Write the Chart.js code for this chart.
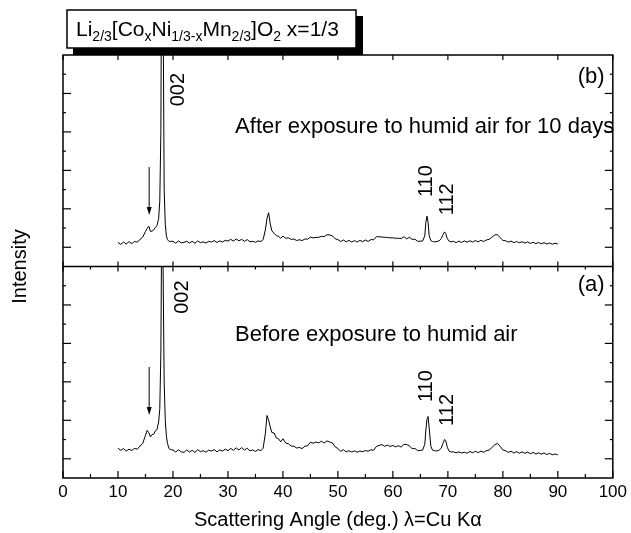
<!DOCTYPE html>
<html>
<head>
<meta charset="utf-8">
<script src="https://cdn.jsdelivr.net/npm/chart.js@4.4.1/dist/chart.umd.min.js"></script>
<style>
  html, body { margin: 0; padding: 0; background: #fff; }
</style>
</head>
<body>
<canvas id="xrdChart" width="631" height="533"></canvas>
<script>
const FONT = "'Liberation Sans', Arial, Helvetica, sans-serif";

// 2-theta positions (deg), shared by both patterns
const angles = [
  10, 10.5, 11, 11.5, 12, 12.5, 13, 13.5, 14, 14.5, 15,
  15.3, 15.6, 15.9, 16.2, 16.5, 16.8, 17.1, 17.4, 17.6, 17.8, 17.9, 18.0, 18.1, 18.2, 18.4, 18.6, 18.8, 19.0, 19.3, 19.6,
  20, 20.5, 21, 21.5, 22, 22.5, 23, 23.5, 24, 24.5,
  25, 25.5, 26, 26.5, 27, 27.5, 28, 28.5, 29, 29.5,
  30, 30.5, 31, 31.5, 32, 32.5, 33, 33.5, 34, 34.5,
  35, 35.5, 36,
  36.4, 36.8, 37.1, 37.4, 37.7, 38.0, 38.4, 38.8, 39.2, 39.6,
  40, 40.5, 41, 41.5, 42, 42.5, 43, 43.5, 44, 44.5,
  45, 45.5, 46, 46.5, 47, 47.5, 48, 48.5, 49, 49.5,
  50, 50.5, 51, 51.5, 52, 52.5, 53, 53.5, 54, 54.5,
  55, 55.5, 56, 56.5, 57, 57.5, 58, 58.5, 59, 59.5,
  60, 60.5, 61, 61.5, 62, 62.5, 63, 63.5, 64, 64.5, 65,
  65.4, 65.8, 66.0, 66.2, 66.4, 66.6, 66.9, 67.2, 67.6, 68.0, 68.4, 68.8, 69.1, 69.4, 69.6, 69.9, 70.2, 70.6,
  71, 71.5, 72, 72.5, 73, 73.5, 74, 74.5, 75, 75.5,
  76, 76.5, 77, 77.5, 78, 78.5, 79, 79.5, 80, 80.5,
  81, 81.5, 82, 82.5, 83, 83.5, 84, 84.5, 85, 85.5,
  86, 86.5, 87, 87.5, 88, 88.5, 89, 89.5, 90
];

// (a) before exposure, intensity in panel units (0-11)
const beforeExposure = [
  1.55, 1.44, 1.53, 1.40, 1.50, 1.43, 1.54, 1.50, 1.66, 1.80, 2.22,
  2.48, 2.36, 2.14, 2.26, 2.28, 2.46, 2.52, 2.92, 3.6, 6.5, 11, 11, 11, 11, 5.0, 3.0, 2.2, 1.8, 1.52, 1.48,
  1.46, 1.35, 1.47, 1.36, 1.33, 1.46, 1.35, 1.44, 1.33, 1.47,
  1.37, 1.42, 1.34, 1.45, 1.40, 1.48, 1.36, 1.46, 1.40, 1.50,
  1.42, 1.54, 1.44, 1.57, 1.46, 1.58, 1.45, 1.55, 1.41, 1.46,
  1.38, 1.48, 1.42,
  1.55, 2.3, 3.25, 3.0, 2.65, 2.36, 2.34, 2.08, 2.04, 1.88,
  2.04, 1.82, 1.78, 1.66, 1.65, 1.56, 1.59, 1.53, 1.65, 1.68,
  1.86, 1.81, 1.87, 1.83, 1.91, 1.82, 1.93, 1.87, 1.82, 1.62,
  1.53, 1.39, 1.47, 1.36, 1.42, 1.35, 1.41, 1.34, 1.40, 1.37,
  1.43, 1.39, 1.47, 1.44, 1.64, 1.69, 1.74, 1.65, 1.71, 1.64,
  1.69, 1.62, 1.68, 1.61, 1.75, 1.74, 1.68, 1.52, 1.54, 1.42, 1.44,
  1.45, 1.75, 2.5, 3.05, 3.2, 2.6, 1.65, 1.45, 1.42, 1.40, 1.45, 1.55, 1.80, 2.00, 1.95, 1.60, 1.40, 1.35,
  1.36, 1.31, 1.36, 1.30, 1.34, 1.29, 1.38, 1.31, 1.39, 1.32,
  1.40, 1.34, 1.42, 1.45, 1.58, 1.72, 1.80, 1.65, 1.46, 1.42,
  1.33, 1.39, 1.30, 1.37, 1.29, 1.36, 1.28, 1.35, 1.26, 1.33,
  1.25, 1.31, 1.24, 1.30, 1.22, 1.28, 1.21, 1.25, 1.20
];

// (b) after 10 days in humid air, intensity in panel units (0-11)
const afterExposure = [
  1.25, 1.15, 1.27, 1.17, 1.29, 1.19, 1.30, 1.27, 1.40, 1.53, 1.82,
  1.97, 2.10, 1.83, 1.84, 1.90, 2.03, 2.13, 2.5, 3.4, 7.0, 14, 16, 16, 14, 4.0, 2.2, 1.6, 1.40, 1.30, 1.31,
  1.31, 1.21, 1.33, 1.23, 1.26, 1.31, 1.22, 1.31, 1.21, 1.33,
  1.24, 1.28, 1.22, 1.31, 1.27, 1.35, 1.25, 1.33, 1.27, 1.36,
  1.32, 1.41, 1.32, 1.43, 1.34, 1.41, 1.31, 1.40, 1.28, 1.31,
  1.26, 1.33, 1.30,
  1.40, 1.9, 2.5, 2.8, 2.2, 1.85, 1.72, 1.60, 1.57, 1.47,
  1.58, 1.47, 1.49, 1.41, 1.43, 1.35, 1.39, 1.35, 1.43, 1.42,
  1.53, 1.49, 1.51, 1.52, 1.57, 1.55, 1.65, 1.64, 1.60, 1.44,
  1.40, 1.30, 1.38, 1.28, 1.36, 1.27, 1.35, 1.27, 1.36, 1.29,
  1.38, 1.30, 1.40, 1.39, 1.55, 1.55, 1.53, 1.52, 1.51, 1.49,
  1.49, 1.47, 1.47, 1.45, 1.55, 1.44, 1.52, 1.41, 1.42, 1.31, 1.32,
  1.32, 1.6, 2.3, 2.62, 2.3, 1.6, 1.35, 1.30, 1.28, 1.30, 1.33, 1.45, 1.65, 1.80, 1.72, 1.45, 1.32, 1.28,
  1.31, 1.24, 1.32, 1.25, 1.33, 1.26, 1.34, 1.27, 1.35, 1.28,
  1.36, 1.30, 1.38, 1.41, 1.52, 1.64, 1.66, 1.50, 1.36, 1.34,
  1.27, 1.32, 1.24, 1.30, 1.23, 1.29, 1.22, 1.28, 1.20, 1.26,
  1.19, 1.25, 1.18, 1.24, 1.17, 1.22, 1.16, 1.21, 1.17
];

const xTickValues = [0, 10, 20, 30, 40, 50, 60, 70, 80, 90, 100];
const panelSpan = 11; // each panel covers 11 intensity units

// annotations in data coordinates
const notes = [
  { text: '(b)', x: 93.6, y: 20.85, size: 22 },
  { text: 'After exposure to humid air for 10 days', x: 31.3, y: 18.25, size: 22 },
  { text: '002', x: 21.0, y: 20.2, size: 20, rot: true },
  { text: '110', x: 66.1, y: 15.44, size: 20, rot: true },
  { text: '112', x: 70.0, y: 14.5, size: 20, rot: true },
  { text: '(a)', x: 93.6, y: 10.04, size: 22 },
  { text: 'Before exposure to humid air', x: 31.3, y: 7.44, size: 22 },
  { text: '002', x: 21.8, y: 9.41, size: 20, rot: true },
  { text: '110', x: 66.1, y: 4.78, size: 20, rot: true },
  { text: '112', x: 70.0, y: 3.54, size: 20, rot: true }
];
const arrows = [
  { x: 15.67, from: 16.17, to: 13.68 },
  { x: 15.67, from: 5.77, to: 3.28 }
];
const formula = [
  ['Li', 0], ['2/3', 1], ['[Co', 0], ['x', 1], ['Ni', 0], ['1/3-x', 1],
  ['Mn', 0], ['2/3', 1], [']O', 0], ['2', 1], [' x=1/3', 0]
];

const decorations = {
  id: 'decorations',
  beforeDraw(chart) {
    const c = chart.ctx;
    c.save();
    c.fillStyle = '#fff';
    c.fillRect(0, 0, chart.width, chart.height);
    c.restore();
  },
  afterDatasetsDraw(chart) {
    const c = chart.ctx, a = chart.chartArea;
    const xs = chart.scales.x, ys = chart.scales.y;
    const seg = (x1, y1, x2, y2) => { c.beginPath(); c.moveTo(x1, y1); c.lineTo(x2, y2); c.stroke(); };
    c.save();
    c.strokeStyle = '#000';
    c.fillStyle = '#000';
    c.lineWidth = 1.5;
    c.strokeRect(a.left, a.top, a.right - a.left, a.bottom - a.top);
    const mid = ys.getPixelForValue(panelSpan);
    seg(a.left, mid, a.right, mid);

    c.lineWidth = 1.2;
    for (let v = 0; v <= 100; v += 5) {
      const px = xs.getPixelForValue(v);
      const major = v % 10 === 0;
      seg(px, a.bottom, px, a.bottom - (major ? 7 : 4));
      if (major) {
        seg(px, mid - 5, px, mid + 5);
        seg(px, a.top, px, a.top + 5);
      } else {
        seg(px, mid, px, mid + 3);
      }
    }
    for (let v = 1; v < 2 * panelSpan; v++) {
      if (v === panelSpan) continue;
      const py = ys.getPixelForValue(v);
      const local = v < panelSpan ? v : v - panelSpan;
      const len = local % 2 === 1 ? 8 : 3;
      seg(a.left, py, a.left + len, py);
      seg(a.right, py, a.right - len, py);
    }

    notes.forEach(n => {
      const px = xs.getPixelForValue(n.x), py = ys.getPixelForValue(n.y);
      c.save();
      c.font = n.size + 'px ' + FONT;
      c.translate(px, py);
      if (n.rot) { c.rotate(-Math.PI / 2); c.textAlign = 'center'; }
      else c.textAlign = 'left';
      c.textBaseline = 'middle';
      c.fillText(n.text, 0, 0);
      c.restore();
    });

    c.lineWidth = 1;
    arrows.forEach(ar => {
      const px = xs.getPixelForValue(ar.x);
      const p1 = ys.getPixelForValue(ar.from), p2 = ys.getPixelForValue(ar.to);
      seg(px, p1, px, p2 - 6);
      c.beginPath();
      c.moveTo(px - 2.5, p2 - 8);
      c.lineTo(px + 2.5, p2 - 8);
      c.lineTo(px, p2);
      c.closePath();
      c.fill();
    });
    c.restore();
  },
  afterDraw(chart) {
    const c = chart.ctx;
    c.save();
    c.fillStyle = '#000';
    c.fillRect(73, 16, 290, 39);
    c.fillStyle = '#fff';
    c.fillRect(67, 10, 289, 38);
    c.strokeStyle = '#000';
    c.lineWidth = 1.5;
    c.strokeRect(67, 10, 289, 38);
    c.fillStyle = '#000';
    c.textBaseline = 'alphabetic';
    let tx = 76;
    const base = 36;
    formula.forEach(([t, sub]) => {
      c.font = (sub ? 14 : 21) + 'px ' + FONT;
      c.fillText(t, tx, sub ? base + 5 : base);
      tx += c.measureText(t).width;
    });
    c.restore();
  }
};

const ctx = document.getElementById('xrdChart').getContext('2d');
new Chart(ctx, {
  type: 'line',
  data: {
    datasets: [
      {
        label: 'Before exposure',
        data: angles.map((a, i) => ({ x: a, y: beforeExposure[i] })),
        borderColor: '#000',
        borderWidth: 1,
        pointRadius: 0,
        tension: 0
      },
      {
        label: 'After exposure',
        data: angles.map((a, i) => ({ x: a, y: afterExposure[i] + panelSpan })),
        borderColor: '#000',
        borderWidth: 1,
        pointRadius: 0,
        tension: 0
      }
    ]
  },
  options: {
    responsive: false,
    animation: false,
    layout: { padding: { top: 55, right: 18, left: 0, bottom: 0 } },
    plugins: { legend: { display: false }, tooltip: { enabled: false } },
    scales: {
      x: {
        type: 'linear',
        min: 0,
        max: 100,
        afterBuildTicks: s => { s.ticks = xTickValues.map(v => ({ value: v })); },
        afterFit: s => { s.height = 55; },
        grid: { display: false, drawTicks: false },
        border: { display: false },
        ticks: { color: '#000', padding: 4, maxRotation: 0, font: { family: FONT, size: 17 } },
        title: {
          display: true,
          text: 'Scattering Angle (deg.) λ=Cu Kα',
          color: '#000',
          padding: { top: 0, bottom: 1 },
          font: { family: FONT, size: 20 }
        }
      },
      y: {
        min: 0,
        max: 2 * panelSpan,
        afterFit: s => { s.width = 63; },
        grid: { display: false, drawTicks: false },
        border: { display: false },
        ticks: { display: false },
        title: {
          display: true,
          text: 'Intensity',
          color: '#000',
          padding: { top: 8, bottom: 0 },
          font: { family: FONT, size: 20 }
        }
      }
    }
  },
  plugins: [decorations]
});
</script>
</body>
</html>
